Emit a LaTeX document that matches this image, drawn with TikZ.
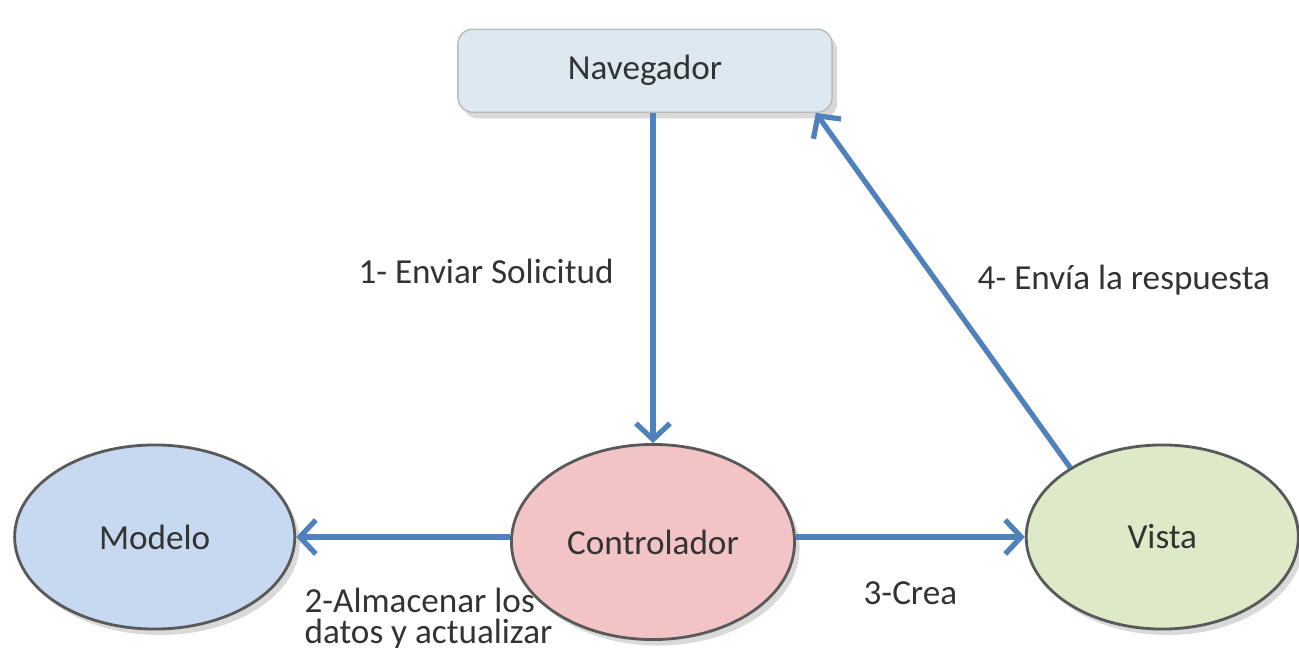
\documentclass[tikz,border=0pt]{standalone}
\usepackage{fontspec}
\setmainfont{Carlito}
\usepackage{xcolor}
\usetikzlibrary{arrows.meta, positioning, shapes.geometric, shadows}
\definecolor{flechaazul}{RGB}{79,129,189}
\definecolor{navfondo}{RGB}{220,233,241}
\definecolor{modfondo}{RGB}{198,217,241}
\definecolor{ctrlfondo}{RGB}{242,196,197}
\definecolor{vistafondo}{RGB}{222,234,199}

\begin{document}
\begin{tikzpicture}[x=0.01cm,y=-0.01cm,node distance=5cm]
 \useasboundingbox (0,0) rectangle (1299,648);
 \tikzstyle{circulo}=[ellipse,draw=gray!70!black,line width=.8pt,text centered,
   text=black!80,drop shadow={shadow xshift=.5mm,shadow yshift=-.6mm,opacity=.3}]
 \tikzstyle{caja}=[rectangle,draw=gray!55,rounded corners=1.5mm,
   minimum width=3.74cm,minimum height=.83cm,text centered,text=black!80,
   fill=navfondo,drop shadow={shadow xshift=.5mm,shadow yshift=-.6mm,opacity=.3}]
 \tikzstyle{flecha}=[-{Straight Barb[length=1.6mm,width=3.4mm]},
   line width=1.5pt,draw=flechaazul]
 \tikzstyle{etiqueta}=[text=black!80,font=\fontsize{10}{8.6}\selectfont]
 \node (ctrl) [circulo,minimum width=2.83cm,minimum height=1.95cm,fill=ctrlfondo]
   at (653,542) {Controlador};
 \node (mod) [circulo,left of=ctrl,xshift=.02cm,yshift=.05cm,
   minimum width=2.8cm,minimum height=1.84cm,fill=modfondo] {Modelo};
 \node (vista) [circulo,right of=ctrl,xshift=.09cm,yshift=.05cm,
   minimum width=2.72cm,minimum height=1.84cm,fill=vistafondo] {Vista};
 \node (nav) [caja,above of=ctrl,xshift=-.08cm,yshift=-.29cm] {Navegador};
 \draw[flecha] (nav.south -| ctrl) -- node[etiqueta,left,xshift=-.25cm,pos=.48] (l1)
   {1- Enviar Solicitud} (ctrl);
 \draw[flecha] (ctrl.west |- mod) -- node[etiqueta,anchor=north west,align=left,pos=1,
   xshift=-.06cm,yshift=-.37cm] (l2) {2-Almacenar los\\datos y actualizar} (mod);
 \draw[flecha] (ctrl.east |- vista) -- node[etiqueta,below,yshift=-.3cm] (l3)
   {3-Crea} (vista);
 \draw[flecha] (vista.143) -- node[etiqueta,right,xshift=.28cm,pos=.53] (l4)
   {4- Envía la respuesta} ([xshift=-.17cm]nav.south east);
\end{tikzpicture}
\end{document}
